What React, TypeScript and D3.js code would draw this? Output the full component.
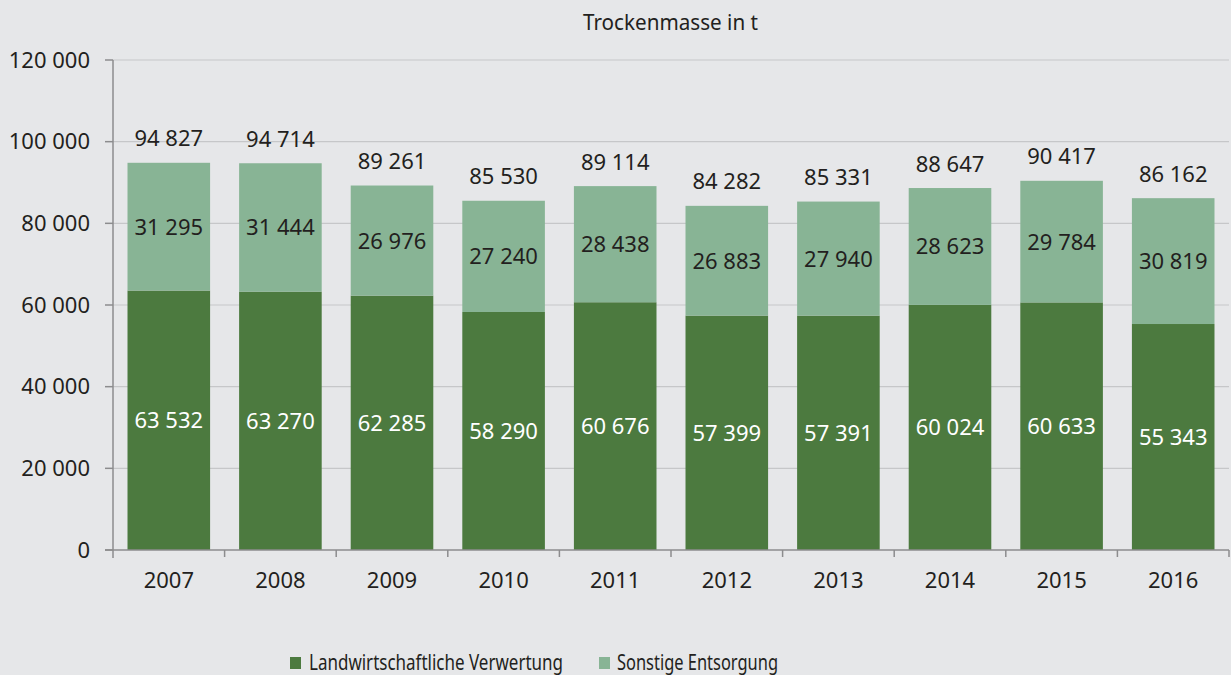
import React from "react";
import * as d3 from "d3";

const years = ["2007", "2008", "2009", "2010", "2011", "2012", "2013", "2014", "2015", "2016"];
const landwirtschaft = [63532, 63270, 62285, 58290, 60676, 57399, 57391, 60024, 60633, 55343];
const sonstige = [31295, 31444, 26976, 27240, 28438, 26883, 27940, 28623, 29784, 30819];
const yTicks = [0, 20000, 40000, 60000, 80000, 100000, 120000];
const seriesNames = ["Landwirtschaftliche Verwertung", "Sonstige Entsorgung"];

const W = 1231, H = 675;
const left = 113, right = 1229, top = 60, bottom = 550;
const DARK = "#4c7a3f", LIGHT = "#88b495", BG = "#e6e7e9", TEXT = "#231f20";
const FONT = "'Noto Sans', 'Open Sans', sans-serif";
const FS = 22;

const fmt = (v: number) => {
  const s = String(Math.round(v));
  return s.replace(/\B(?=(\d{3})+(?!\d))/g, " ");
};

export default function App() {
  const x = d3.scaleBand<string>().domain(years).range([left, right]).paddingInner(0.26).paddingOuter(0.13);
  const y = d3.scaleLinear().domain([0, 120000]).range([bottom, top]);
  const step = x.step();
  const stack = d3.stack<number>().keys(["0", "1"]).value((i, k) => (k === "0" ? landwirtschaft[i] : sonstige[i]));
  const series = stack(years.map((_, i) => i));
  const colors = [DARK, LIGHT];
  return (
    <svg width={W} height={H} style={{ position: "absolute", left: 0, top: 0, background: BG }} fontFamily={FONT}>
      <rect x={0} y={0} width={W} height={H} fill={BG} />
      <text x={670.5} y={30} textAnchor="middle" fontSize={21} fill={TEXT} textLength={175} lengthAdjust="spacingAndGlyphs">Trockenmasse in t</text>
      {yTicks.map((t) => (
        <g key={t}>
          {t > 0 && <line x1={left} x2={right} y1={y(t)} y2={y(t)} stroke="#c6c7c9" strokeWidth={1.2} />}
          <line x1={105} x2={left} y1={y(t)} y2={y(t)} stroke="#8c8c8e" strokeWidth={1.5} />
          <text x={90} y={y(t) + 7.5} textAnchor="end" fontSize={FS} fill={TEXT}>{fmt(t)}</text>
        </g>
      ))}
      {series.map((s, si) =>
        s.map((d, i) => (
          <rect key={si + "-" + i} x={x(years[i])} y={y(d[1])} width={x.bandwidth()} height={y(d[0]) - y(d[1])} fill={colors[si]} />
        ))
      )}
      <line x1={left} x2={left} y1={top} y2={bottom + 8} stroke="#8c8c8e" strokeWidth={1.5} />
      <line x1={105} x2={right} y1={bottom} y2={bottom} stroke="#8c8c8e" strokeWidth={1.5} />
      {years.map((yr, i) => (
        <line key={"t" + yr} x1={left + step * (i + 1)} x2={left + step * (i + 1)} y1={bottom} y2={bottom + 7} stroke="#8c8c8e" strokeWidth={1.5} />
      ))}
      {years.map((yr, i) => {
        const cx = (x(yr) as number) + x.bandwidth() / 2;
        const tot = landwirtschaft[i] + sonstige[i];
        return (
          <g key={"l" + yr} fontSize={FS} textAnchor="middle">
            <text x={cx} y={(y(0) + y(landwirtschaft[i])) / 2 + 8} fill="#ffffff">{fmt(landwirtschaft[i])}</text>
            <text x={cx} y={(y(landwirtschaft[i]) + y(tot)) / 2 + 8} fill={TEXT}>{fmt(sonstige[i])}</text>
            <text x={cx} y={y(tot) - 16.5} fill={TEXT}>{fmt(tot)}</text>
            <text x={cx} y={588} fill={TEXT}>{yr}</text>
          </g>
        );
      })}
      <rect x={290} y={657} width={11} height={12} fill={DARK} />
      <text x={309} y={670} fontSize={FS} fill={TEXT} textLength={254} lengthAdjust="spacingAndGlyphs">{seriesNames[0]}</text>
      <rect x={599} y={657} width={11} height={12} fill={LIGHT} />
      <text x={617} y={670} fontSize={FS} fill={TEXT} textLength={161} lengthAdjust="spacingAndGlyphs">{seriesNames[1]}</text>
    </svg>
  );
}
